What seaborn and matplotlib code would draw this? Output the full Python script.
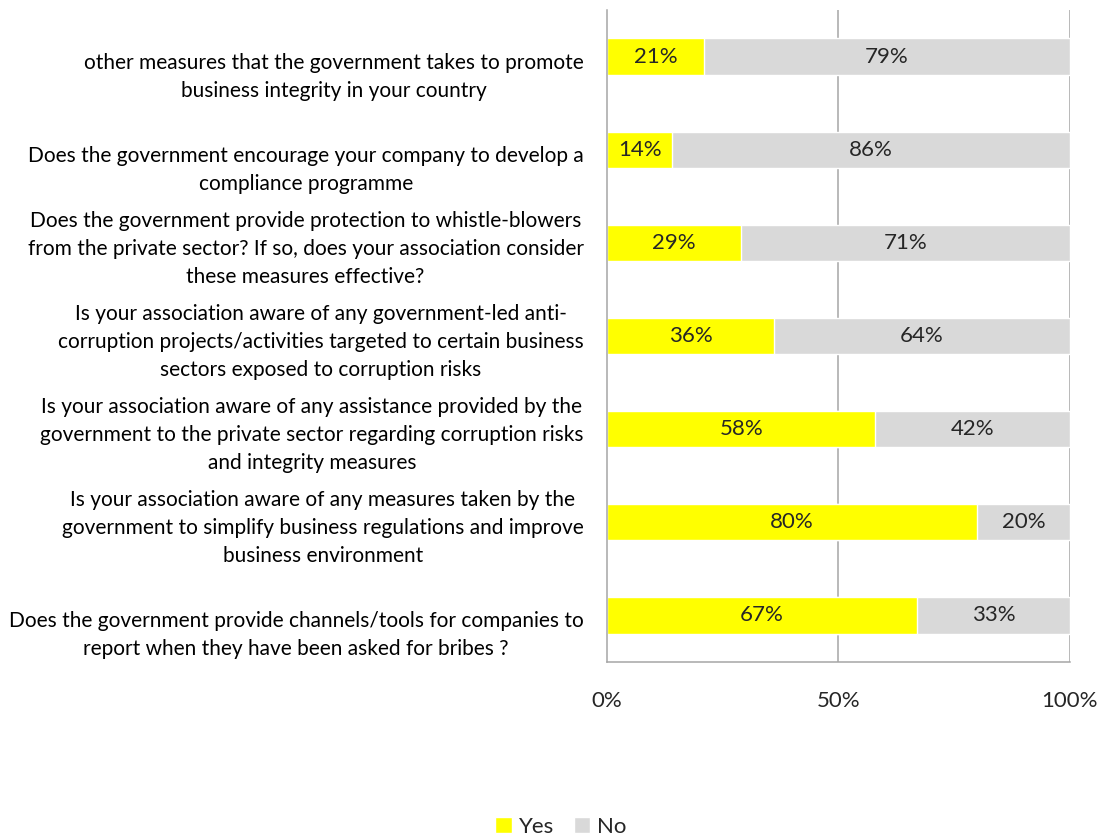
import matplotlib
matplotlib.use("Agg")
import matplotlib.pyplot as plt
from matplotlib.patches import Patch
import seaborn as sns
import pandas as pd
import numpy as np

questions = [
    "other measures that the government takes to promote\nbusiness integrity in your country",
    "Does the government encourage your company to develop a\ncompliance programme",
    "Does the government provide protection to whistle-blowers\nfrom the private sector? If so, does your association consider\nthese measures effective?",
    "Is your association aware of any government-led anti-\ncorruption projects/activities targeted to certain business\nsectors exposed to corruption risks",
    "Is your association aware of any assistance provided by the\ngovernment to the private sector regarding corruption risks\nand integrity measures",
    "Is your association aware of any measures taken by the\ngovernment to simplify business regulations and improve\nbusiness environment",
    "Does the government provide channels/tools for companies to\nreport when they have been asked for bribes ?",
]
yes_pct = [21, 14, 29, 36, 58, 80, 67]
no_pct = [79, 86, 71, 64, 42, 20, 33]
x_ticks = [0, 50, 100]
x_tick_labels = ["0%", "50%", "100%"]

YES_COLOR = "#FFFF00"
NO_COLOR = "#D9D9D9"
AXIS_COLOR = "#A6A6A6"
TEXT_COLOR = "#262626"

sns.set_theme(style="white")
plt.rcParams["font.family"] = ["Lato", "DejaVu Sans"]

df = pd.DataFrame({
    "question": questions,
    "yes": yes_pct,
    "no": no_pct,
})
df["total"] = df["yes"] + df["no"]

fig = plt.figure(figsize=(11.04, 8.4), dpi=100)
ax = fig.add_axes([0.55, 0.212, 0.419, 0.776])

# Stacked bars: full-length "No" bar underneath, "Yes" segment drawn on top
sns.barplot(data=df, y="question", x="total", color=NO_COLOR, orient="h",
            width=0.39, ax=ax, saturation=1, order=questions)
sns.barplot(data=df, y="question", x="yes", color=YES_COLOR, orient="h",
            width=0.39, ax=ax, saturation=1, order=questions)

for i, (y, n) in enumerate(zip(yes_pct, no_pct)):
    ax.text(y / 2, i, f"{y}%", ha="center", va="center", fontsize=16, color=TEXT_COLOR)
    ax.text(y + n / 2, i, f"{n}%", ha="center", va="center", fontsize=16, color=TEXT_COLOR)

ax.set_xlim(0, 100)
ax.set_ylim(len(questions) - 0.5, -0.5)
ax.set_xlabel("")
ax.set_ylabel("")

# Vertical gridlines at 50% and 100%
for xv in x_ticks[1:]:
    ax.axvline(xv, color=AXIS_COLOR, lw=1.1, zorder=0)

ax.set_xticks(x_ticks)
ax.set_xticklabels(x_tick_labels, fontsize=16, color=TEXT_COLOR)
ax.tick_params(axis="x", direction="out", length=8, width=1.1, color=AXIS_COLOR, pad=13)

# Category labels laid out in three-line slots: two-line labels sit in the lower two
label_text = ["\n" + q if q.count("\n") == 1 else q for q in questions]
ax.set_yticks(range(len(questions)))
ax.set_yticklabels(label_text, fontsize=15, color="black", multialignment="center",
                   linespacing=1.5)
for lbl in ax.get_yticklabels():
    lbl.set_y(lbl.get_position()[1])
ax.tick_params(axis="y", which="major", length=0, pad=17)
ax.set_yticks(np.arange(-0.5, len(questions), 1.0), minor=True)
ax.tick_params(axis="y", which="minor", direction="out", length=7, width=1.1, color=AXIS_COLOR)

for side in ["top", "right"]:
    ax.spines[side].set_visible(False)
for side in ["left", "bottom"]:
    ax.spines[side].set_color(AXIS_COLOR)
    ax.spines[side].set_linewidth(1.1)

handles = [Patch(facecolor=YES_COLOR, label="Yes"), Patch(facecolor=NO_COLOR, label="No")]
fig.legend(handles=handles, loc="center", bbox_to_anchor=(0.508, 0.016), ncol=2,
           frameon=False, fontsize=16, handlelength=0.75, handleheight=0.75,
           handletextpad=0.3, columnspacing=0.9, labelcolor=TEXT_COLOR)

fig.savefig("out.png", dpi=100)
